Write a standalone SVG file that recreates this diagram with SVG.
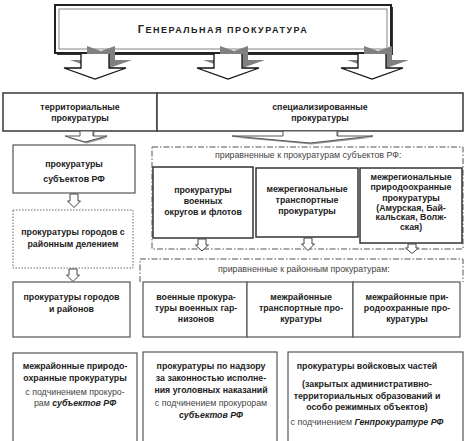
<svg xmlns="http://www.w3.org/2000/svg" width="474" height="441" viewBox="0 0 474 441">
<style>
text{font-family:"Liberation Sans",Arial,sans-serif;font-size:8.8px;fill:#222;text-anchor:middle}
.b{font-weight:bold}
.r{fill:#444}
.l{text-anchor:start}
.bi{font-weight:bold;font-style:italic;fill:#222}
.box{fill:#fff;stroke:#555;stroke-width:1.2}
.box2{fill:#fff;stroke:#444;stroke-width:1.6}
.boxd{fill:#fff;stroke:#333;stroke-width:1.5}
.dot{fill:#fff;stroke:#666;stroke-width:1;stroke-dasharray:1.5 1.5}
.grp{fill:none;stroke:#555;stroke-width:1;stroke-dasharray:6 2 1.5 2}
.sa{fill:#fff;stroke:#444;stroke-width:1}
.ba{fill:#fff;stroke:#111;stroke-width:1.3}
.sh{fill:#808080}
.ch{fill:#fff;stroke:#555;stroke-width:1}
.chs{fill:#999}
</style>
<rect width="474" height="441" fill="#fff"/>

<g id="general">
<rect x="57" y="7" width="336" height="48" fill="#333"/>
<rect x="55" y="5" width="336" height="48" fill="#fff" stroke="#222" stroke-width="2"/>
<rect x="59" y="9" width="328" height="40" fill="none" stroke="#666" stroke-width="0.8"/>
<text x="223" y="33" class="b" style="letter-spacing:1.5px;font-size:9px"><tspan style="font-size:11px">Г</tspan>ЕНЕРАЛЬНАЯ ПРОКУРАТУРА</text>
</g>

<g id="groups">
<rect x="152" y="147" width="311" height="102" class="grp"/>
<text x="215" y="158" class="r l">приравненные к прокуратурам субъектов РФ:</text>
<path d="M140,282 V259 H463 V282" class="grp"/>
<text x="218" y="272" class="r l">приравненные к районным прокуратурам:</text>
</g>

<g id="territorial">
<rect x="3" y="93" width="154" height="38" class="box2"/>
<text x="80" y="109.5" class="b">территориальные</text>
<text x="80" y="121" class="b">прокуратуры</text>
</g>

<g id="specialized">
<rect x="157" y="93" width="306" height="38" class="box2"/>
<text x="320" y="109.5" class="b">специализированные</text>
<text x="320" y="121" class="b">прокуратуры</text>
</g>

<g id="subjects">
<rect x="13" y="145" width="122" height="48" class="box"/>
<text x="74" y="167" class="b">прокуратуры</text>
<text x="74" y="182" class="b">субъектов РФ</text>
</g>

<g id="city-districts">
<rect x="13" y="210" width="120" height="58" class="dot"/>
<text x="73" y="235" class="b">прокуратуры городов с</text>
<text x="73" y="247" class="b">районным делением</text>
</g>

<g id="cities">
<rect x="13" y="282" width="117" height="55" class="box"/>
<text x="71.5" y="300" class="b">прокуратуры городов</text>
<text x="71.5" y="311.5" class="b">и районов</text>
</g>

<g id="military-districts">
<rect x="153" y="167" width="100" height="71" class="boxd"/>
<text x="203" y="193" class="b">прокуратуры</text>
<text x="203" y="204" class="b">военных</text>
<text x="203" y="215" class="b">округов и флотов</text>
</g>

<g id="interregional-transport">
<rect x="256" y="168" width="102" height="69" class="boxd"/>
<text x="307" y="192" class="b">межрегиональные</text>
<text x="307" y="203" class="b">транспортные</text>
<text x="307" y="213.5" class="b">прокуратуры</text>
</g>

<g id="interregional-nature">
<rect x="360" y="168" width="102" height="75" class="boxd"/>
<text x="411" y="180" class="b">межрегиональные</text>
<text x="411" y="190" class="b">природоохранные</text>
<text x="411" y="200.5" class="b">прокуратуры</text>
<text x="411" y="210.5" class="b">(Амурская, Бай-</text>
<text x="411" y="220" class="b">кальская, Волж-</text>
<text x="411" y="230" class="b">ская)</text>
</g>

<g id="garrisons">
<rect x="143" y="282" width="104" height="55" class="box"/>
<text x="196" y="300" class="b">военные прокура-</text>
<text x="196" y="311" class="b">туры военных гар-</text>
<text x="196" y="322" class="b">низонов</text>
</g>

<g id="interdistrict-transport">
<rect x="247" y="282" width="106" height="55" class="box"/>
<text x="301" y="300" class="b">межрайонные</text>
<text x="301" y="311" class="b">транспортные про-</text>
<text x="301" y="322" class="b">куратуры</text>
</g>

<g id="interdistrict-nature">
<rect x="353" y="282" width="107" height="55" class="box"/>
<text x="407" y="300" class="b">межрайонные при-</text>
<text x="407" y="311" class="b">родоохранные про-</text>
<text x="407" y="322" class="b">куратуры</text>
</g>

<g id="interdistrict-nature-subjects">
<rect x="13" y="353" width="124" height="95" class="box"/>
<text x="75" y="369" class="b">межрайонные природо-</text>
<text x="75" y="381" class="b">охранные прокуратуры</text>
<text x="75" y="395" class="r">с подчинением прокуро-</text>
<text x="75" y="406" class="r">рам <tspan class="bi">субъектов РФ</tspan></text>
</g>

<g id="penal-supervision">
<rect x="143" y="352" width="134" height="96" class="box"/>
<text x="211" y="369" class="b">прокуратуры по надзору</text>
<text x="211" y="381" class="b">за законностью исполне-</text>
<text x="211" y="392.5" class="b">ния уголовных наказаний</text>
<text x="211" y="406" class="r">с подчинением прокурорам</text>
<text x="211" y="417.5" class="bi">субъектов РФ</text>
</g>

<g id="military-units">
<rect x="288" y="352" width="175" height="96" class="box"/>
<text x="367" y="369" class="b">прокуратуры войсковых частей</text>
<text x="367" y="387" class="b">(закрытых административно-</text>
<text x="367" y="398.5" class="b">территориальных образований и</text>
<text x="367" y="410" class="b">особо режимных объектов)</text>
<text x="367" y="425" class="r">с подчинением <tspan class="bi">Генпрокуратуре РФ</tspan></text>
</g>

<g id="connectors">
<polygon class="sh" points="87,46 101,51 115,46 115,60 132,60 101,71 70,60 87,60"/>
<path class="ba" d="M81,54 V68 H64 L95,79 L126,68 H109 V54"/>
<polygon class="sh" points="220,46 234,51 248,46 248,60 265,60 234,71 203,60 220,60"/>
<path class="ba" d="M214,54 V68 H197 L228,79 L259,68 H242 V54"/>
<polygon class="sh" points="364,46 378,51 392,46 392,60 409,60 378,71 347,60 364,60"/>
<path class="ba" d="M358,54 V68 H341 L372,79 L403,68 H386 V54"/>

<polygon class="chs" points="81.5,132 81.5,137.5 66.5,137.5 86.5,143.5 108.5,137.5 94.5,137.5 94.5,132"/>
<polygon class="ch" points="80,131 80,136 65,136 85,142 107,136 93,136 93,131"/>
<polygon class="chs" points="284.5,132 284.5,137.5 233.5,137.5 311.5,144.5 374.5,137.5 338.5,137.5 338.5,132"/>
<polygon class="ch" points="283,131 283,136 232,136 310,143 373,136 337,136 337,131"/>

<path class="sa" d="M70,194 V201 H67.5 L74,207.5 L80.5,201 H78 V194 Z"/>
<path class="sa" d="M69,269 V275 H66.5 L73,281.5 L79.5,275 H77 V269 Z"/>
<path class="sa" d="M198,239 V245 H195.5 L202,251 L208.5,245 H206 V239 Z"/>
<path class="sa" d="M304,238 V244 H301.5 L308,250.5 L314.5,244 H312 V238 Z"/>
<path class="sa" d="M408,244 V248 H405.5 L412,253.5 L418.5,248 H416 V244 Z"/>
</g>
</svg>
